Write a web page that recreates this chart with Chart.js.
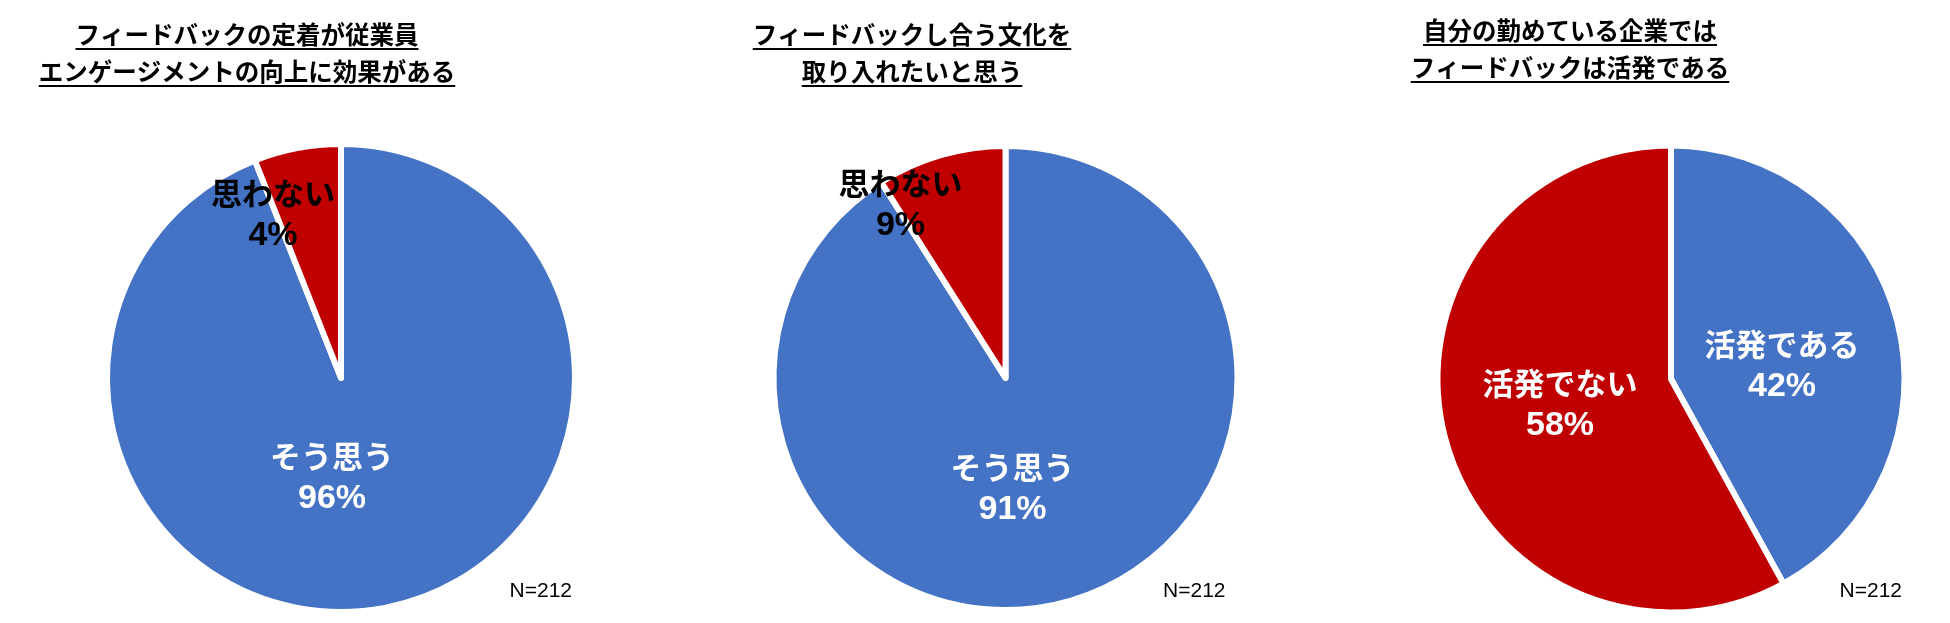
<!DOCTYPE html>
<html>
<head>
<meta charset="utf-8">
<script src="https://cdn.jsdelivr.net/npm/chart.js@4"></script>
<style>
  html, body { margin: 0; padding: 0; background: #fff; overflow: hidden; }
  #wrap { position: relative; width: 1950px; height: 623px; }
  .pie-box { position: absolute; top: 0; width: 650px; height: 623px; }
</style>
</head>
<body>
<div id="wrap">
  <div class="pie-box" style="left:0px"><canvas id="pie1" width="650" height="623"></canvas></div>
  <div class="pie-box" style="left:650px"><canvas id="pie2" width="650" height="623"></canvas></div>
  <div class="pie-box" style="left:1300px"><canvas id="pie3" width="650" height="623"></canvas></div>
</div>
<script>
// Titles (two lines each)
var title1 = ['フィードバックの定着が従業員', 'エンゲージメントの向上に効果がある'];
var title2 = ['フィードバックし合う文化を', '取り入れたいと思う'];
var title3 = ['自分の勤めている企業では', 'フィードバックは活発である'];

// Chart 1
var categories1 = ['そう思う', '思わない'];
var values1     = [94, 6];
var percents1   = ['96%', '4%'];

// Chart 2
var categories2 = ['そう思う', '思わない'];
var values2     = [91, 9];
var percents2   = ['91%', '9%'];

// Chart 3
var categories3 = ['活発である', '活発でない'];
var values3     = [42, 58];
var percents3   = ['42%', '58%'];

var sampleSize = 'N=212';

var BLUE = '#4472C4';
var RED  = '#C00000';

// draws underlined titles, slice labels and the N= note
var pieDecorPlugin = {
  id: 'pieDecor',
  afterDraw: function (chart) {
    var opt  = chart.options.plugins.pieDecor;
    var ctx  = chart.ctx;
    var meta = chart.getDatasetMeta(0);
    ctx.save();

    // title
    ctx.font = 'bold 24.5px "Noto Sans CJK JP"';
    ctx.textAlign = 'center';
    ctx.textBaseline = 'middle';
    ctx.fillStyle = '#000';
    opt.title.forEach(function (line, i) {
      var y = opt.titleY + i * 37;
      ctx.fillText(line, opt.titleX, y);
      var w = ctx.measureText(line).width;
      ctx.fillRect(opt.titleX - w / 2, y + 13, w, 2);
    });

    // slice labels
    meta.data.forEach(function (arc, i) {
      var x = arc.x + opt.labelOffsets[i][0];
      var y = arc.y + opt.labelOffsets[i][1];
      ctx.fillStyle = opt.labelColors[i];
      ctx.font = 'bold 31px "Noto Sans CJK JP"';
      ctx.fillText(chart.data.labels[i], x, y - 21);
      ctx.font = 'bold 34px "Liberation Sans", "Noto Sans CJK JP"';
      ctx.fillText(opt.percents[i], x, y + 22);
    });

    // N=
    var c = meta.data[0];
    ctx.fillStyle = '#000';
    ctx.font = '21px "Liberation Sans"';
    ctx.textAlign = 'right';
    ctx.textBaseline = 'alphabetic';
    ctx.fillText(sampleSize, c.x + opt.nOffset, 597);
    ctx.restore();
  }
};

function makePie(id, labels, values, percents, extra) {
  var ctx = document.getElementById(id).getContext('2d');
  return new Chart(ctx, {
    type: 'pie',
    data: {
      labels: labels,
      datasets: [{
        data            : values,
        backgroundColor : [BLUE, RED],
        borderColor     : '#ffffff',
        borderWidth     : 6,
        borderJoinStyle : 'round',
        hoverOffset     : 0
      }]
    },
    options: {
      responsive: false,
      animation: false,
      devicePixelRatio: 1,
      radius: extra.radius,
      layout: { padding: extra.padding },
      events: [],
      plugins: {
        legend : { display: false },
        title  : { display: false },
        tooltip: { enabled: false },
        pieDecor: {
          title       : extra.title,
          titleX      : extra.titleX,
          titleY      : extra.titleY,
          percents    : percents,
          labelOffsets: extra.labelOffsets,
          labelColors : extra.labelColors,
          nOffset     : extra.nOffset
        }
      }
    },
    plugins: [pieDecorPlugin]
  });
}

makePie('pie1', categories1, values1, percents1, {
  radius: 234,
  padding: { left: 32, right: 0, top: 133, bottom: 0 },
  title: title1, titleX: 247, titleY: 35,
  labelOffsets: [[-9, 99], [-68, -164]],
  labelColors: ['#ffffff', '#000000'],
  nOffset: 231
});

makePie('pie2', categories2, values2, percents2, {
  radius: 232,
  padding: { left: 61, right: 0, top: 133, bottom: 0 },
  title: title2, titleX: 262, titleY: 35,
  labelOffsets: [[7, 110], [-105, -174]],
  labelColors: ['#ffffff', '#000000'],
  nOffset: 220
});

makePie('pie3', categories3, values3, percents3, {
  radius: 233.5,
  padding: { left: 92, right: 0, top: 135, bottom: 0 },
  title: title3, titleX: 270, titleY: 31,
  labelOffsets: [[111, -14], [-111, 25]],
  labelColors: ['#ffffff', '#ffffff'],
  nOffset: 231
});
</script>
</body>
</html>
